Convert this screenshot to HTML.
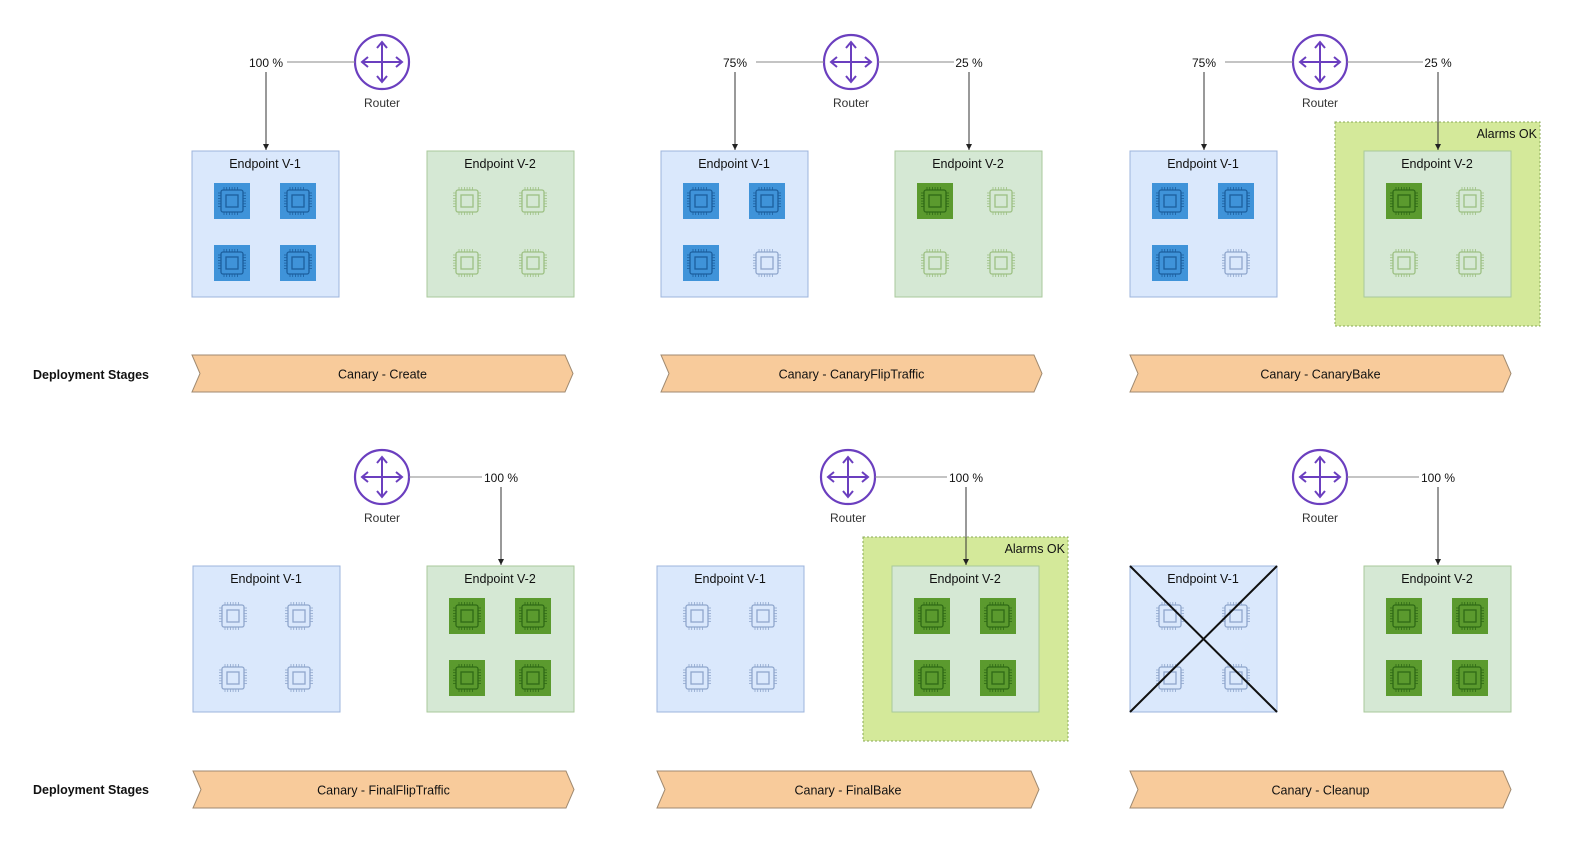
<!DOCTYPE html>
<html><head><meta charset="utf-8"><style>
body{margin:0;background:#fff;width:1596px;height:858px;overflow:hidden}
svg text{font-family:"Liberation Sans",sans-serif}
</style></head><body>
<svg id="s" width="1596" height="858"></svg>
<script>
// stage data
const stageNames=["Canary - Create","Canary - CanaryFlipTraffic","Canary - CanaryBake","Canary - FinalFlipTraffic","Canary - FinalBake","Canary - Cleanup"];
const v1Active=[4,3,3,0,0,0];
const v2Active=[0,1,1,4,4,4];
const v1Traffic=["100 %","75%","75%","","",""];
const v2Traffic=["","25 %","25 %","100 %","100 %","100 %"];
const alarmsOk=[false,false,true,false,true,false];
const removed=[false,false,false,false,false,true];
// layout
const L=[
 {r:382,ry:62,v1:192,v2:427,by:151,sy:355},
 {r:851,ry:62,v1:661,v2:895,by:151,sy:355},
 {r:1320,ry:62,v1:1130,v2:1364,by:151,sy:355},
 {r:382,ry:477,v1:193,v2:427,by:566,sy:771},
 {r:848,ry:477,v1:657,v2:892,by:566,sy:771},
 {r:1320,ry:477,v1:1130,v2:1364,by:566,sy:771}];
const sv=document.getElementById('s');const NS='http://www.w3.org/2000/svg';
function E(t,a,p,txt){const e=document.createElementNS(NS,t);for(const k in a)e.setAttribute(k,a[k]);if(txt!==undefined)e.textContent=txt;(p||sv).appendChild(e);return e;}
const defs=E('defs',{});const mk=E('marker',{id:'ar',markerWidth:8,markerHeight:8,refX:6,refY:4,orient:'auto'},defs);E('path',{d:'M0,1L6,4L0,7z',fill:'#222'},mk);
function chip(g,cx,cy,on,blue){
 const fill=blue?'#3f93d9':'#5b9a2e', dark=blue?'#1c5f9e':'#2f6a16', light=blue?'#8fa6cc':'#9dc083';
 const c=on?dark:light;
 if(on)E('rect',{x:cx-18,y:cy-18,width:36,height:36,fill:fill},g);
 E('rect',{x:cx-11,y:cy-11,width:22,height:22,rx:2,fill:'none',stroke:c,'stroke-width':1.3},g);
 E('rect',{x:cx-6,y:cy-6,width:12,height:12,fill:'none',stroke:c,'stroke-width':1.3},g);
 for(let i=-8;i<=8;i+=2.7){E('line',{x1:cx+i,y1:cy-14,x2:cx+i,y2:cy-11,stroke:c,'stroke-width':.8},g);E('line',{x1:cx+i,y1:cy+11,x2:cx+i,y2:cy+14,stroke:c,'stroke-width':.8},g);E('line',{x1:cx-14,y1:cy+i,x2:cx-11,y2:cy+i,stroke:c,'stroke-width':.8},g);E('line',{x1:cx+11,y1:cy+i,x2:cx+14,y2:cy+i,stroke:c,'stroke-width':.8},g);}
}
function endpoint(g,x,y,label,n,blue){
 const b=E('g',{},g);
 
 
 E('rect',{x:x,y:y,width:147,height:146,fill:blue?'#dae8fc':'#d5e8d4',stroke:blue?'#9cb4dc':'#a9c99b','stroke-width':1},b);
 E('text',{x:x+73,y:y+17,'text-anchor':'middle','font-size':12.5,fill:'#111'},b,label);
 const pos=[[40,50],[106,50],[40,112],[106,112]];
 pos.forEach((p,i)=>chip(b,x+p[0],y+p[1],i<n,blue));
 return b;
}
E('text',{x:33,y:379,'font-size':12.5,'font-weight':'bold',fill:'#111'},sv,'Deployment Stages');
E('text',{x:33,y:794,'font-size':12.5,'font-weight':'bold',fill:'#111'},sv,'Deployment Stages');
stageNames.forEach((nm,i)=>{
 const l=L[i];const g=E('g',{});
 
 
 if(alarmsOk[i]){const a=E('rect',{x:l.v2-29,y:l.by-29,width:205,height:204,fill:'#d4e99a',stroke:'#8aaa55','stroke-dasharray':'2,2'},g);
  
  E('text',{x:l.v2+173,y:l.by-13,'text-anchor':'end','font-size':12.5,fill:'#111'},g,'Alarms OK');}
 endpoint(g,l.v1,l.by,'Endpoint V-1',v1Active[i],true);
 endpoint(g,l.v2,l.by,'Endpoint V-2',v2Active[i],false);
 if(removed[i]){E('line',{x1:l.v1,y1:l.by,x2:l.v1+147,y2:l.by+146,stroke:'#111','stroke-width':2},g);E('line',{x1:l.v1+147,y1:l.by,x2:l.v1,y2:l.by+146,stroke:'#111','stroke-width':2},g);}
 // router
 const r=E('g',{},g);
 const cx=l.r,cy=l.ry,pc='#6b3fbf';
 E('circle',{cx:cx,cy:cy,r:27,fill:'#fff',stroke:pc,'stroke-width':2.2},r);
 E('path',{d:`M${cx-20},${cy}H${cx+20}M${cx},${cy-20}V${cy+20}M${cx-14},${cy-5}L${cx-20},${cy}L${cx-14},${cy+5}M${cx+14},${cy-5}L${cx+20},${cy}L${cx+14},${cy+5}M${cx-5},${cy-14}L${cx},${cy-20}L${cx+5},${cy-14}M${cx-5},${cy+14}L${cx},${cy+20}L${cx+5},${cy+14}`,fill:'none',stroke:pc,'stroke-width':2},r);
 E('text',{x:cx,y:cy+45,'text-anchor':'middle','font-size':12,fill:'#333'},r,'Router');
 const ax1=l.v1+74, ax2=l.v2+74;
 if(v1Traffic[i]){E('line',{x1:ax1+21,y1:cy,x2:cx-27,y2:cy,stroke:'#888'},g);E('text',{x:ax1,y:cy+5,'text-anchor':'middle','font-size':12,fill:'#111'},g,v1Traffic[i]);E('line',{x1:ax1,y1:cy+10,x2:ax1,y2:l.by-1,stroke:'#333','marker-end':'url(#ar)'},g);}
 if(v2Traffic[i]){E('line',{x1:cx+27,y1:cy,x2:ax2-(v2Traffic[i].length>4?19:15),y2:cy,stroke:'#888'},g);E('text',{x:ax2,y:cy+5,'text-anchor':'middle','font-size':12,fill:'#111'},g,v2Traffic[i]);E('line',{x1:ax2,y1:cy+10,x2:ax2,y2:l.by-1,stroke:'#333','marker-end':'url(#ar)'},g);}
 // stage bar
 const x0=l.v1, w=(i==4?382:381), y0=l.sy, h=37;
 const sb=E('path',{d:`M${x0},${y0}H${x0+w-8}L${x0+w},${y0+h/2}L${x0+w-8},${y0+h}H${x0}L${x0+8},${y0+h/2}Z`,fill:'#f8cb9b',stroke:'#a08a70','stroke-width':1},g);
 
 E('text',{x:x0+w/2,y:y0+h/2+5,'text-anchor':'middle','font-size':12.5,fill:'#111'},g,nm);
});
</script>
</body></html>
